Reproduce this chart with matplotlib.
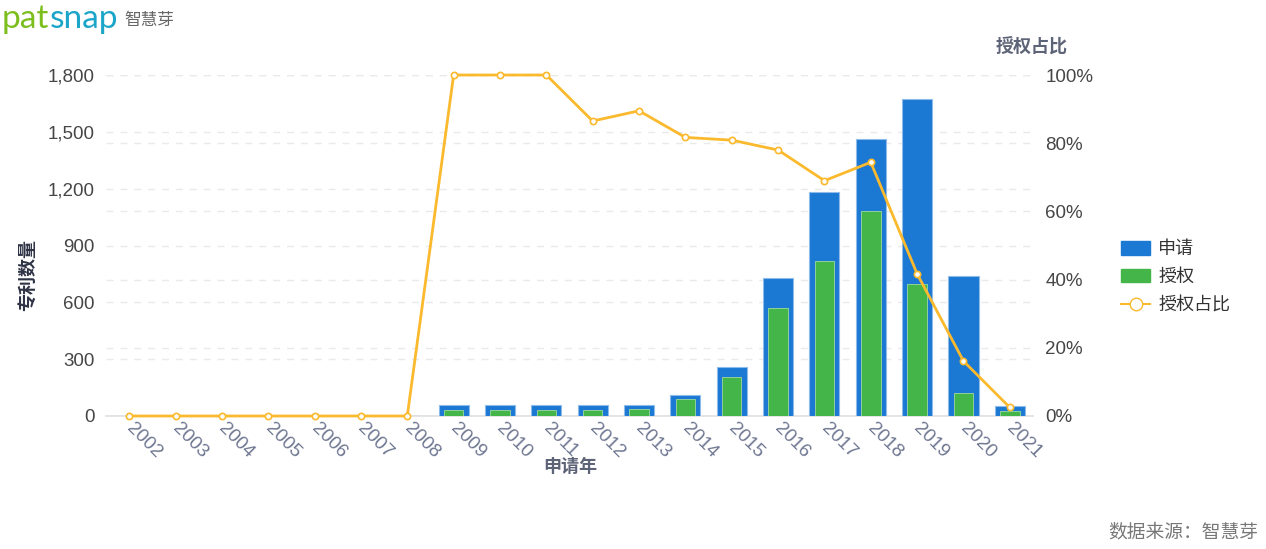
import matplotlib
matplotlib.use("Agg")
import matplotlib.pyplot as plt
from matplotlib.patches import Patch
from matplotlib.lines import Line2D
from matplotlib.ticker import FuncFormatter, MultipleLocator
from matplotlib.transforms import ScaledTranslation
import numpy as np

plt.rcParams['font.family'] = ['Noto Sans CJK SC', 'DejaVu Sans']

years = [str(y) for y in range(2002, 2022)]
applications = [0, 0, 0, 0, 0, 0, 0, 56, 56, 56, 56, 56, 110, 258, 730, 1184, 1461, 1675, 739, 54]
grants = [0, 0, 0, 0, 0, 0, 0, 30, 30, 30, 30, 36, 90, 207, 569, 818, 1084, 697, 120, 28]
grant_ratio = [0, 0, 0, 0, 0, 0, 0, 100, 100, 100, 86.5, 89.5, 81.7, 80.9, 78.0, 69.0, 74.4, 41.7, 16.1, 2.5]

BLUE = '#1B78D3'
GREEN = '#44B649'
ORANGE = '#FBB92D'
TICK_DARK = '#464646'
TICK_GRAY = '#6E7691'
GRID = '#EAEAEA'
NUMFONT = ['Liberation Sans', 'DejaVu Sans']

W, H = 1266, 549
fig = plt.figure(figsize=(W / 100, H / 100), dpi=100)
rect = [106 / W, 1 - 416 / H, 927 / W, 341 / H]

# back axes: right-hand percentage scale with its grid
axr = fig.add_axes(rect)
axr.set_ylim(0, 100)
axr.yaxis.set_major_locator(MultipleLocator(20))
axr.yaxis.set_major_formatter(FuncFormatter(lambda v, p: f"{int(v)}%"))
axr.yaxis.tick_right()
axr.tick_params(axis='y', length=0, pad=9, labelsize=13.5, labelcolor=TICK_DARK)
axr.tick_params(axis='x', bottom=False, labelbottom=False)
for l in axr.get_yticklabels():
    l.set_family(NUMFONT)
axr.grid(axis='y', color=GRID, linestyle=(0, (5, 5)), linewidth=1)
for s in axr.spines.values():
    s.set_visible(False)

# bar axes
ax = fig.add_axes(rect)
ax.patch.set_visible(False)
x = np.arange(len(years))
ax.bar(x, applications, width=0.65, color=BLUE, edgecolor='#8DBBEA', linewidth=0.8, zorder=3)
ax.bar(x, grants, width=0.42, color=GREEN, edgecolor='#9BD99E', linewidth=0.6, zorder=4)
ax.set_xlim(-0.5, len(years) - 0.5)
axr.set_xlim(-0.5, len(years) - 0.5)
ax.set_ylim(0, 1800)
ax.yaxis.set_major_locator(MultipleLocator(300))
ax.yaxis.set_major_formatter(FuncFormatter(lambda v, p: f"{int(v):,}"))
ax.set_xticks(x)
ax.set_xticklabels(years, rotation=-45, ha='left', va='top', rotation_mode='anchor',
                   fontsize=13.5, color=TICK_GRAY, family=NUMFONT)
ax.tick_params(axis='x', length=0, pad=5)
ax.tick_params(axis='y', length=0, pad=8, labelsize=13.5, labelcolor=TICK_DARK)
for l in ax.get_yticklabels():
    l.set_family(NUMFONT)
offset = ScaledTranslation(4 / 72, 2 / 72, fig.dpi_scale_trans)
for l in ax.get_xticklabels():
    l.set_transform(l.get_transform() + offset)
ax.grid(axis='y', color=GRID, linestyle=(0, (5, 5)), linewidth=1, zorder=0)
ax.set_axisbelow(True)
for s in ['top', 'right', 'left']:
    ax.spines[s].set_visible(False)
ax.spines['bottom'].set_color('#E0E0E0')
ax.spines['bottom'].set_linewidth(1.2)

# line axes on top
axl = fig.add_axes(rect)
axl.patch.set_visible(False)
axl.set_xlim(-0.5, len(years) - 0.5)
axl.set_ylim(0, 100)
axl.plot(x, grant_ratio, color=ORANGE, linewidth=2, marker='o', markersize=4.5,
         markerfacecolor='white', markeredgecolor=ORANGE, markeredgewidth=1.2, clip_on=False)
axl.axis('off')

fig.text(28 / W, 1 - 275 / H, '专利数量', rotation=90, ha='center', va='center',
         fontsize=13, color='#2E3345', fontweight='bold')
fig.text(570 / W, 1 - 466 / H, '申请年', ha='center', va='center',
         fontsize=13, color='#5E6478', fontweight='bold')
fig.text(1032 / W, 1 - 46 / H, '授权占比', ha='center', va='center',
         fontsize=13, color='#5E6478', fontweight='bold')

handles = [Patch(facecolor=BLUE, edgecolor=BLUE),
           Patch(facecolor=GREEN, edgecolor=GREEN),
           Line2D([0], [0], color=ORANGE, linewidth=1.5, marker='o', markersize=9,
                  markerfacecolor='white', markeredgecolor=ORANGE)]
fig.legend(handles, ['申请', '授权', '授权占比'], loc='upper left',
           bbox_to_anchor=(1105 / W, 1 - 224 / H), frameon=False,
           fontsize=13, handlelength=1.6, handleheight=0.75, labelspacing=0.55,
           handletextpad=0.45, labelcolor='#333333')

# logo
fig.canvas.draw()
r = fig.canvas.get_renderer()
t1 = fig.text(2 / W, 1 - 19 / H, 'pat', fontsize=24, color='#7DBE1F', va='center', ha='left',
              family=['Lato', 'DejaVu Sans'])
bb = t1.get_window_extent(renderer=r)
t2 = fig.text(bb.x1 / W, 1 - 19 / H, 'snap', fontsize=24, color='#1BA5C9', va='center',
              ha='left', family=['Lato', 'DejaVu Sans'])
bb2 = t2.get_window_extent(renderer=r)
fig.text(bb2.x1 / W + 6 / W, 1 - 20 / H, '智慧芽', fontsize=12, color='#666666', va='center',
         ha='left')

fig.text(1258 / W, 1 - 532 / H, '数据来源：智慧芽', fontsize=13.5, color='#777777',
         ha='right', va='center')

fig.savefig('out.png', dpi=100, facecolor='white')
